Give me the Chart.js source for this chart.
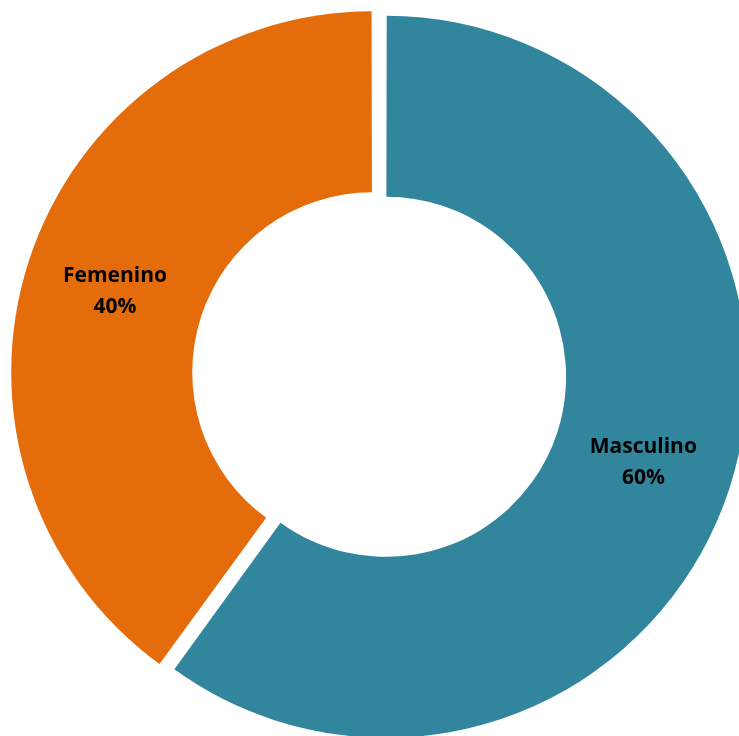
<!DOCTYPE html>
<html>
<head>
<meta charset="utf-8">
<script src="https://cdn.jsdelivr.net/npm/chart.js@4/dist/chart.umd.min.js"></script>
<style>
	html, body { margin: 0; padding: 0; background: #ffffff; }
	#wrap { width: 739px; height: 736px; }
</style>
</head>
<body>
<div id="wrap"><canvas id="genero"></canvas></div>
<script>
// Données du graphique.
const categories = [ "Masculino", "Femenino" ];
const valores = [ 60, 40 ];
const colores = [ "#31859c", "#e46c0a" ];

//
// Étiquettes au milieu de l'anneau de chaque portion (nom + pourcentage).
//	Note : on refait le calcul du décalage de Chart.js (offset / 4 en translation,
//	plus l'agrandissement du rayon qui dépend de l'angle de la portion).
//
const etiquetas = {
	id: "etiquetas",
	afterDatasetsDraw( chart )
	{
		const ctx = chart.ctx;
		const meta = chart.getDatasetMeta( 0 );
		const total = valores.reduce( ( a, b ) => a + b, 0 );

		ctx.save();
		ctx.fillStyle = "#000000";
		ctx.font = "bold 21px 'Open Sans'";
		ctx.textAlign = "center";
		ctx.textBaseline = "middle";

		meta.data.forEach( ( arc, indice ) =>
		{
			const mitad = ( arc.startAngle + arc.endAngle ) / 2;
			const decalage = ( arc.options.offset || 0 ) / 4;
			const fix = 1 - Math.sin( Math.min( Math.PI, arc.circumference ) );
			const rayon = decalage + decalage * fix + ( arc.innerRadius + arc.outerRadius ) / 2;
			const x = arc.x + Math.cos( mitad ) * rayon;
			const y = arc.y + Math.sin( mitad ) * rayon;
			const pct = Math.round( valores[ indice ] / total * 100 ) + "%";

			ctx.fillText( categories[ indice ], x, y - 13 );
			ctx.fillText( pct, x, y + 18 );
		} );

		ctx.restore();
	}
};

new Chart( document.getElementById( "genero" ),
	{
		type: "doughnut",
		data: {
			labels: categories,
			datasets: [
				{
					data: valores,
					backgroundColor: colores,
					borderWidth: 0,
					// Décalages choisis pour garder le même rayon visible sur les deux portions.
					offset: [ 17, 41 ],
					radius: 356.8,
					cutout: "49.27%",
					clip: false
				}
			]
		},
		options: {
			responsive: true,
			maintainAspectRatio: false,
			animation: false,
			layout: {
				padding: { left: 25, top: 15, right: 0, bottom: 0 }
			},
			plugins: {
				legend: { display: false },
				tooltip: { enabled: false }
			}
		},
		plugins: [ etiquetas ]
	} );
</script>
</body>
</html>
